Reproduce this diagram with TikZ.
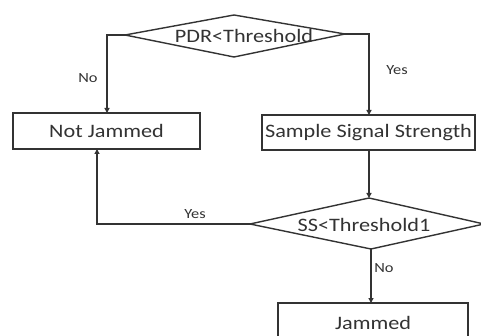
\documentclass[tikz,border=0pt]{standalone}
\usepackage{fontspec}
\setmainfont{Carlito}
\usetikzlibrary{arrows.meta}
\definecolor{ln}{HTML}{333333}
\definecolor{tx}{HTML}{333333}
\tikzset{
  conn/.style={draw=ln, line width=1.4pt, -{Triangle[length=5pt,width=5pt]}},
  plain/.style={draw=ln, line width=1.4pt},
  boxn/.style={draw=ln, line width=1.4pt, rectangle, inner sep=0pt, text=tx},
  maintext/.style={text=tx, inner sep=0pt, font=\fontsize{19}{22}\selectfont},
  lbl/.style={text=tx, inner sep=0pt, font=\fontsize{14}{16}\selectfont},
}
\newcommand{\wt}[1]{\scalebox{1.17}[1]{#1}}
\begin{document}
\begin{tikzpicture}[x=1pt,y=-1pt]
\useasboundingbox[fill=white] (0,0) rectangle (481,336);
\clip (0,0) rectangle (481,336);
% diamond 1
\coordinate (d1w) at (125,35);
\coordinate (d1e) at (345,34);
\coordinate (d1n) at (234,15);
\coordinate (d1s) at (234,57);
\draw[plain, line join=miter] (d1w) -- (d1n) -- (d1e) -- (d1s) -- cycle;
\node[maintext] (t1) at (244,36) {\wt{PDR<Threshold}};
% boxes
\node[boxn, minimum width=187pt, minimum height=36pt] (nj) at (106.5,131) {};
\node[maintext] at (nj.center) {\wt{Not Jammed}};
\node[boxn, minimum width=213pt, minimum height=35pt] (ss) at (368.5,132.5) {};
\node[maintext] at (ss.center) {\wt{Sample Signal Strength}};
\node[boxn, minimum width=190pt, minimum height=42pt] (jm) at (373,324) {};
\node[maintext] at (373,323) {\wt{Jammed}};
% diamond 2
\coordinate (d2w) at (250,224);
\coordinate (d2e) at (484,224);
\coordinate (d2n) at (369,198);
\coordinate (d2s) at (371,249);
\draw[plain, line join=miter] (d2w) -- (d2n) -- (d2e) -- (d2s) -- cycle;
\node[maintext] (t2) at (364,225) {\wt{SS<Threshold1}};
% connectors
\coordinate (njin) at (107,113);
\coordinate (ssin) at (369,115);
\coordinate (ssout) at (369,150);
\coordinate (njup) at (97,149);
\coordinate (jmin) at (371,303);
\draw[conn] (d1w) -- (107,35) -- (njin);
\draw[conn] (d1e) -- (369,34) -- (ssin);
\draw[conn] (ssout) -- (d2n);
\draw[conn] (d2w) -- (97,224) -- (njup);
\draw[conn] (d2s) -- (jmin);
% labels
\node[lbl] (l1) at (88,78) {\wt{No}};
\node[lbl] (l2) at (397,70) {\wt{Yes}};
\node[lbl] (l3) at (195,214) {\wt{Yes}};
\node[lbl] (l4) at (384,268) {\wt{No}};
\end{tikzpicture}
\end{document}
